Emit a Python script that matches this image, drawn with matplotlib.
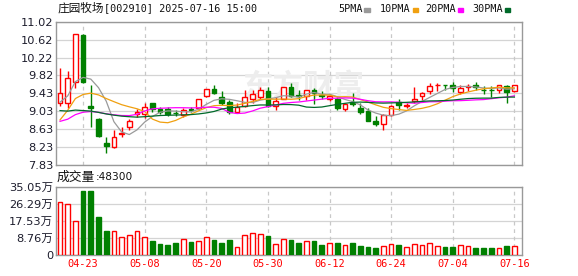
import matplotlib
matplotlib.use("Agg")
import matplotlib.pyplot as plt
import numpy as np
import pandas as pd

# 交易日 (60 天)
trade_days = ['04-18', '04-21', '04-22',
              '04-23', '04-24', '04-25', '04-28', '04-29', '04-30', '05-06', '05-07',
              '05-08', '05-09', '05-12', '05-13', '05-14', '05-15', '05-16', '05-19',
              '05-20', '05-21', '05-22', '05-23', '05-26', '05-27', '05-28', '05-29',
              '05-30', '06-03', '06-04', '06-05', '06-06', '06-09', '06-10', '06-11',
              '06-12', '06-13', '06-16', '06-17', '06-18', '06-19', '06-20', '06-23',
              '06-24', '06-25', '06-26', '06-27', '06-30', '07-01', '07-02', '07-03',
              '07-04', '07-07', '07-08', '07-09', '07-10', '07-11', '07-14', '07-15',
              '07-16']
tick_days = ['04-23', '05-08', '05-20', '05-30', '06-12', '06-24', '07-04', '07-16']

open_ = [9.22, 9.20, 9.67, 10.72, 9.14, 8.85, 8.31, 8.22, 8.52, 8.68,
         8.97, 8.96, 9.20, 9.07, 9.07, 8.99, 8.94, 9.07, 9.09, 9.37,
         9.52, 9.35, 9.24, 9.00, 9.14, 9.29, 9.35, 9.48, 9.14, 9.31,
         9.56, 9.38, 9.37, 9.50, 9.38, 9.31, 9.30, 9.08, 9.21, 9.09,
         9.04, 8.81, 8.74, 8.94, 9.24, 9.15, 9.25, 9.37, 9.48, 9.60,
         9.62, 9.61, 9.46, 9.57, 9.61, 9.50, 9.50, 9.51, 9.59, 9.48]
close = [9.43, 9.76, 10.74, 9.67, 9.11, 8.48, 8.26, 8.45, 8.53, 8.82,
         9.00, 9.13, 9.07, 9.00, 8.97, 8.98, 9.05, 9.06, 9.29, 9.52,
         9.43, 9.22, 9.00, 9.13, 9.34, 9.41, 9.49, 9.14, 9.26, 9.56,
         9.37, 9.37, 9.49, 9.43, 9.37, 9.37, 9.10, 9.18, 9.19, 9.00,
         8.81, 8.75, 8.94, 9.14, 9.17, 9.17, 9.31, 9.43, 9.59, 9.61,
         9.61, 9.54, 9.54, 9.59, 9.56, 9.49, 9.49, 9.60, 9.45, 9.61]
high = [10.00, 9.92, 10.74, 10.74, 9.61, 8.87, 8.46, 8.62, 8.67, 8.85,
        9.07, 9.20, 9.22, 9.13, 9.12, 9.05, 9.09, 9.13, 9.31, 9.53,
        9.61, 9.48, 9.27, 9.22, 9.50, 9.51, 9.57, 9.57, 9.35, 9.56,
        9.66, 9.50, 9.50, 9.55, 9.48, 9.38, 9.35, 9.21, 9.43, 9.20,
        9.09, 8.91, 8.96, 9.16, 9.30, 9.22, 9.57, 9.46, 9.66, 9.65,
        9.62, 9.68, 9.61, 9.63, 9.68, 9.58, 9.58, 9.61, 9.61, 9.62]
low = [9.14, 9.11, 9.54, 9.66, 8.68, 8.46, 8.10, 8.20, 8.46, 8.61,
       8.90, 8.87, 9.02, 8.96, 8.93, 8.91, 8.90, 9.02, 9.07, 9.35,
       9.41, 9.17, 8.96, 8.98, 9.12, 9.22, 9.29, 9.12, 9.06, 9.29,
       9.35, 9.28, 9.27, 9.19, 9.31, 9.25, 9.05, 9.03, 9.14, 8.97,
       8.80, 8.70, 8.61, 8.92, 9.05, 9.11, 9.20, 9.28, 9.42, 9.48,
       9.51, 9.46, 9.42, 9.47, 9.50, 9.41, 9.35, 9.43, 9.22, 9.46]
# 成交量 (万)
volume = [27.0, 26.0, 17.4, 33.0, 33.0, 19.5, 12.3, 12.3, 9.2, 10.3,
          12.3, 9.2, 7.2, 5.6, 5.1, 6.2, 8.2, 6.7, 7.2, 9.2,
          7.7, 6.2, 7.7, 4.1, 10.3, 11.3, 10.8, 9.7, 5.6, 8.2,
          7.7, 6.2, 7.2, 7.2, 5.1, 6.2, 6.2, 5.1, 6.2, 4.6,
          4.1, 3.6, 4.6, 5.6, 5.1, 4.1, 5.6, 5.1, 6.2, 4.6,
          4.1, 4.1, 5.1, 4.6, 3.6, 3.6, 3.6, 3.6, 4.6, 4.83]
# 图中可见区间之前的收盘价 (由均线起点估计)
prev_close = [10.1, 10.05, 10.0, 9.45, 9.35, 9.3, 9.25, 9.2, 9.2, 9.3,
              8.8, 8.7, 8.6, 8.8, 8.85, 8.9, 8.9, 8.85, 8.85, 8.45,
              7.61, 8.12, 8.77, 8.81, 8.88, 9.06, 9.15, 9.2, 9.3]

price_ticks = ['7.83', '8.23', '8.63', '9.03', '9.43', '9.82', '10.22', '10.62', '11.02']
vol_ticks = ['0', '8.76', '17.53', '26.29', '35.05']
ma_periods = [5, 10, 20, 30]
ma_colors = ['#9a9a9a', '#f0a010', '#ff00ff', '#006a2a']

RED = '#ff0000'
GREEN = '#008000'
W, H = 578, 276

n = len(close)
x = np.arange(n)
full = pd.Series(prev_close + close)
ma = {p: full.rolling(p).mean().to_numpy()[-n:] for p in ma_periods}

up = []
for i in range(n):
    if close[i] != open_[i]:
        up.append(close[i] > open_[i])
    else:
        up.append(i == 0 or close[i] >= close[i - 1])
colors = [RED if u else GREEN for u in up]
faces = ['white' if u else GREEN for u in up]

fig = plt.figure(figsize=(W / 100, H / 100), dpi=100)
ax = fig.add_axes([56 / W, 1 - 165 / H, 466 / W, 143.3 / H])
axv = fig.add_axes([56 / W, 1 - 255 / H, 466 / W, 68.3 / H])

tick_pos = [trade_days.index(d) for d in tick_days]
cjk = ['DejaVu Sans', 'Noto Sans CJK SC']

# K线
pt = [float(v) for v in price_ticks]
ax.set_ylim(pt[0], pt[-1])
ax.set_xlim(-0.52, n)
ygrid = np.linspace(pt[0], pt[-1], len(pt))
for y in ygrid:
    ax.axhline(y, color='#d4d4d4', lw=0.9, zorder=0)
for p in tick_pos:
    ax.axvline(p, color='#c8c8c8', lw=0.9, ls=(0, (3, 3)), zorder=0)

ax.text(0.53, 0.55, '东方财富', transform=ax.transAxes, ha='center', va='center',
        fontsize=22, color='#ededed', family='Noto Sans CJK SC', fontweight='bold', zorder=0.5)

ax.vlines(x, low, high, colors=colors, lw=1, zorder=2)
body = np.abs(np.array(close) - np.array(open_))
body = np.maximum(body, 0.012)
bottom = np.minimum(open_, close)
ax.bar(x, body, bottom=bottom, width=0.62, color=faces, edgecolor=colors, lw=1, zorder=3)

for p, c in zip(ma_periods, ma_colors):
    ax.plot(x, ma[p], color=c, lw=0.9, zorder=4)

ax.set_yticks(ygrid)
ax.set_yticklabels(price_ticks, fontsize=8.2, color='#1c1c2c')
ax.set_xticks([])
ax.tick_params(axis='y', length=0, pad=2)
for s in ax.spines.values():
    s.set_color('#999999')
    s.set_linewidth(1)

# 成交量
vt = [float(v) for v in vol_ticks]
axv.set_ylim(0, vt[-1])
axv.set_xlim(-0.52, n)
for y in np.linspace(0, vt[-1], len(vt)):
    axv.axhline(y, color='#d4d4d4', lw=0.9, zorder=0)
for p in tick_pos:
    axv.axvline(p, color='#c8c8c8', lw=0.9, ls=(0, (3, 3)), zorder=0)
axv.bar(x, volume, width=0.62, color=faces, edgecolor=colors, lw=1, zorder=3)
axv.set_yticks(np.linspace(0, vt[-1], len(vt)))
axv.set_yticklabels([v if v == '0' else v + '万' for v in vol_ticks],
                    fontsize=8.2, color='#1c1c2c', family=cjk)
axv.set_xticks(tick_pos)
axv.set_xticklabels(tick_days, fontsize=7.4, color=RED, family='DejaVu Sans Mono')
axv.tick_params(axis='y', length=0, pad=2)
axv.tick_params(axis='x', length=0, pad=3)
for s in axv.spines.values():
    s.set_color('#999999')
    s.set_linewidth(1)

# 标题和图例
fig.text(57 / W, 1 - 8.5 / H, '庄园牧场', fontsize=8.4, family='Noto Sans CJK SC',
         ha='left', va='center', color='#111111')
fig.text(103.5 / W, 1 - 8.5 / H, '[002910] 2025-07-16 15:00', fontsize=7.3,
         family='DejaVu Sans Mono', ha='left', va='center', color='#111111')

leg_x = [338, 380, 425, 472]
for lx, p, c in zip(leg_x, ma_periods, ma_colors):
    label = f'{p}PMA'
    fig.text(lx / W, 1 - 9 / H, label, fontsize=7.3, family='DejaVu Sans Mono',
             ha='left', va='center', color='#111111')
    sx = lx + len(label) * 6.1 + 2
    fig.patches.append(plt.Rectangle((sx / W, 1 - 12 / H), 5.5 / W, 4 / H,
                                     transform=fig.transFigure, color=c, figure=fig))

fig.text(57 / W, 1 - 177 / H, '成交量', fontsize=9.2, family='Noto Sans CJK SC',
         ha='left', va='center', color='#111111')
fig.text(96 / W, 1 - 177 / H, ':48300', fontsize=7.6, family='DejaVu Sans',
         ha='left', va='center', color='#111111')

fig.savefig('out.png', dpi=100)
